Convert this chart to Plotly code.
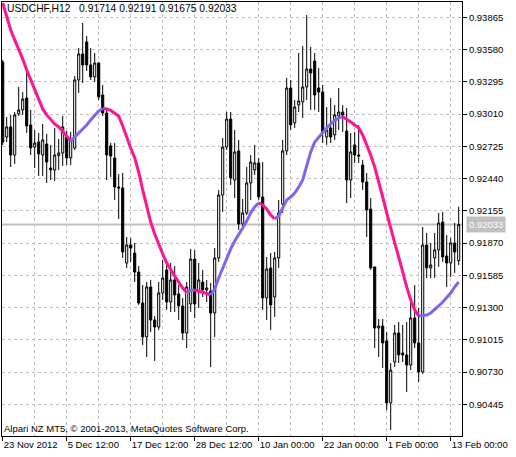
import plotly.graph_objects as go

# ---- data (USDCHF H12) ----
opens = [0.93470, 0.92807, 0.92896, 0.92648, 0.93011, 0.93046, 0.93152, 0.92913, 0.92719, 0.92763,
         0.92648, 0.92745, 0.92533, 0.92516, 0.92644, 0.92666, 0.92807, 0.92622, 0.92710, 0.93311,
         0.93541, 0.93647, 0.93444, 0.93338, 0.93461, 0.93178, 0.93019, 0.92728, 0.92622, 0.92365,
         0.92357, 0.91694, 0.91853, 0.91782, 0.91614, 0.91340, 0.91040, 0.91482, 0.91190, 0.91128,
         0.91429, 0.91632, 0.91349, 0.91544, 0.91420, 0.91314, 0.91075, 0.91332, 0.91729, 0.91438,
         0.91526, 0.91455, 0.91446, 0.91252, 0.91738, 0.92295, 0.92719, 0.92966, 0.92427, 0.92684,
         0.92039, 0.92136, 0.92401, 0.92516, 0.92578, 0.92277, 0.91385, 0.91650, 0.91393, 0.91738,
         0.92215, 0.92684, 0.93240, 0.92931, 0.93090, 0.93117, 0.93249, 0.93408, 0.93479, 0.93240,
         0.93205, 0.92807, 0.92887, 0.92825, 0.92993, 0.93028, 0.92860, 0.92427, 0.92737, 0.92648,
         0.92560, 0.92410, 0.92171, 0.91659, 0.91119, 0.91137, 0.91005, 0.90457, 0.90819, 0.91075,
         0.90899, 0.90881, 0.90792, 0.91208, 0.90987, 0.90731, 0.91853, 0.91650, 0.91738, 0.91809,
         0.92056, 0.91756, 0.91694, 0.91871, 0.91714]

highs = [0.93488, 0.92984, 0.93002, 0.93028, 0.93249, 0.93205, 0.93399, 0.93046, 0.92869, 0.92843,
         0.92922, 0.92834, 0.92737, 0.92887, 0.92790, 0.92993, 0.92860, 0.92852, 0.93346, 0.93594,
         0.93815, 0.93700, 0.93594, 0.93550, 0.93470, 0.93267, 0.93064, 0.92754, 0.92754, 0.92480,
         0.92489, 0.91924, 0.91915, 0.91871, 0.91667, 0.91499, 0.91526, 0.91544, 0.91226, 0.91526,
         0.91720, 0.91703, 0.91694, 0.91667, 0.91499, 0.91385, 0.91526, 0.91818, 0.91809, 0.91694,
         0.91632, 0.91544, 0.91517, 0.91826, 0.92339, 0.92798, 0.93028, 0.93028, 0.92869, 0.92781,
         0.92259, 0.92542, 0.92648, 0.92737, 0.92622, 0.92586, 0.91747, 0.91782, 0.91791, 0.92251,
         0.92781, 0.93329, 0.93311, 0.93134, 0.93550, 0.93611, 0.93885, 0.93603, 0.93550, 0.93417,
         0.93267, 0.93072, 0.93152, 0.93090, 0.93240, 0.93090, 0.93064, 0.92843, 0.92852, 0.92913,
         0.92604, 0.92489, 0.92268, 0.91659, 0.91199, 0.91199, 0.91084, 0.90810, 0.91146, 0.91172,
         0.91146, 0.91172, 0.91349, 0.91499, 0.91296, 0.92012, 0.91959, 0.91871, 0.91959, 0.92136,
         0.92145, 0.91941, 0.91915, 0.92047, 0.92191]

lows = [0.92737, 0.92763, 0.92542, 0.92569, 0.92993, 0.93002, 0.92843, 0.92648, 0.92533, 0.92463,
        0.92463, 0.92401, 0.92427, 0.92418, 0.92516, 0.92551, 0.92560, 0.92560, 0.92692, 0.93196,
        0.93285, 0.93391, 0.93311, 0.93293, 0.93134, 0.92993, 0.92427, 0.92454, 0.92251, 0.92083,
        0.91738, 0.91650, 0.91703, 0.91526, 0.91323, 0.90969, 0.90863, 0.91084, 0.90828, 0.91102,
        0.91367, 0.91279, 0.91261, 0.91261, 0.91190, 0.91013, 0.90943, 0.91261, 0.91208, 0.91296,
        0.91393, 0.91349, 0.90775, 0.91040, 0.91703, 0.92145, 0.92692, 0.92383, 0.92268, 0.91985,
        0.91985, 0.92118, 0.92251, 0.92472, 0.92251, 0.91279, 0.91190, 0.91102, 0.91217, 0.91650,
        0.92136, 0.92648, 0.92869, 0.92887, 0.93028, 0.92975, 0.93134, 0.93046, 0.93046, 0.93028,
        0.92754, 0.92737, 0.92754, 0.92781, 0.92869, 0.92852, 0.92224, 0.92268, 0.92578, 0.92578,
        0.92339, 0.91924, 0.91632, 0.90943, 0.90863, 0.90766, 0.90395, 0.90218, 0.90775, 0.90810,
        0.90819, 0.90554, 0.90748, 0.90943, 0.90642, 0.90713, 0.91561, 0.91561, 0.91561, 0.91659,
        0.91703, 0.91482, 0.91570, 0.91606, 0.91675]

closes = [0.92763, 0.92896, 0.92648, 0.93002, 0.93046, 0.93143, 0.92905, 0.92710, 0.92754, 0.92657,
          0.92781, 0.92586, 0.92516, 0.92648, 0.92666, 0.92896, 0.92622, 0.92781, 0.93311, 0.93541,
          0.93444, 0.93444, 0.93338, 0.93461, 0.93161, 0.93019, 0.92648, 0.92639, 0.92365, 0.92357,
          0.91791, 0.91853, 0.91826, 0.91614, 0.91340, 0.91040, 0.91482, 0.91190, 0.91128, 0.91429,
          0.91561, 0.91349, 0.91544, 0.91411, 0.91314, 0.91075, 0.91482, 0.91729, 0.91332, 0.91544,
          0.91455, 0.91473, 0.91252, 0.91738, 0.92295, 0.92719, 0.92966, 0.92445, 0.92675, 0.92039,
          0.92136, 0.92401, 0.92586, 0.92578, 0.92277, 0.91385, 0.91641, 0.91323, 0.91738, 0.92136,
          0.92684, 0.93240, 0.92913, 0.93072, 0.93125, 0.93249, 0.93408, 0.93373, 0.93178, 0.93205,
          0.92852, 0.92869, 0.92807, 0.93002, 0.93028, 0.93002, 0.92427, 0.92675, 0.92648, 0.92639,
          0.92410, 0.92162, 0.91650, 0.91119, 0.91137, 0.90987, 0.90457, 0.90748, 0.91075, 0.90881,
          0.90881, 0.90792, 0.91208, 0.90987, 0.90731, 0.91853, 0.91650, 0.91676, 0.91809, 0.92047,
          0.91747, 0.91694, 0.91871, 0.91791, 0.92033]

ma_values = [0.93991, 0.93868, 0.93753, 0.93665, 0.93585, 0.93497, 0.93399, 0.93311, 0.93223, 0.93134,
             0.93055, 0.93002, 0.92958, 0.92922, 0.92896, 0.92860, 0.92816, 0.92772, 0.92807, 0.92843,
             0.92878, 0.92913, 0.92958, 0.93002, 0.93037, 0.93059, 0.93055, 0.93042, 0.93019, 0.92993,
             0.92905, 0.92798, 0.92710, 0.92622, 0.92498, 0.92339, 0.92206, 0.92056, 0.91950, 0.91853,
             0.91773, 0.91694, 0.91632, 0.91579, 0.91526, 0.91473, 0.91433, 0.91451, 0.91455, 0.91446,
             0.91438, 0.91424, 0.91411, 0.91464, 0.91561, 0.91650, 0.91738, 0.91818, 0.91888, 0.91941,
             0.92003, 0.92065, 0.92136, 0.92189, 0.92224, 0.92206, 0.92171, 0.92118, 0.92083, 0.92109,
             0.92180, 0.92251, 0.92277, 0.92312, 0.92365, 0.92427, 0.92551, 0.92675, 0.92763, 0.92807,
             0.92843, 0.92887, 0.92922, 0.92953, 0.92975, 0.92987, 0.92966, 0.92940, 0.92913, 0.92887,
             0.92825, 0.92737, 0.92648, 0.92542, 0.92418, 0.92277, 0.92136, 0.91994, 0.91871, 0.91747,
             0.91606, 0.91482, 0.91367, 0.91279, 0.91226, 0.91230, 0.91234, 0.91252, 0.91279, 0.91314,
             0.91349, 0.91385, 0.91429, 0.91482, 0.91526]

date_tick_bars = [0, 16, 32, 48, 64, 80, 96, 112]
date_tick_labels = ["23 Nov 2012", "5 Dec 12:00", "17 Dec 12:00", "28 Dec 12:00",
                    "10 Jan 00:00", "22 Jan 00:00", "1 Feb 00:00", "13 Feb 00:00"]
price_ticks = [0.90445, 0.90730, 0.91015, 0.91300, 0.91585, 0.91870, 0.92155,
               0.92440, 0.92725, 0.93010, 0.93295, 0.93580, 0.93865]
last_bid = 0.92033
title_text = "USDCHF,H12\u00a0\u00a0\u00a00.91714\u00a00.92191\u00a00.91675\u00a00.92033"
footer_text = "Alpari NZ MT5, \u00a9 2001-2013, MetaQuotes Software Corp."

# ---- styles ----
UP_COLOR = "#7B68EE"
DOWN_COLOR = "#FF1493"
GRID = "#C0C0C0"
FONT = "Liberation Sans, Arial, sans-serif"
FS = 9.5

bars = list(range(len(opens)))

fig = go.Figure()

fig.add_trace(go.Candlestick(
    x=bars, open=opens, high=highs, low=lows, close=closes,
    increasing=dict(line=dict(color="black", width=1), fillcolor="white"),
    decreasing=dict(line=dict(color="black", width=1), fillcolor="black"),
    whiskerwidth=0, hoverinfo="skip", showlegend=False,
))

# colour-changing moving average (rising = blue, falling = pink)
runs = []
cur = None
for i in range(1, len(ma_values)):
    c = UP_COLOR if ma_values[i] > ma_values[i - 1] else DOWN_COLOR
    if c != cur:
        runs.append([c, [i - 1, i]])
        cur = c
    else:
        runs[-1][1].append(i)
for c, idx in runs:
    fig.add_trace(go.Scatter(
        x=idx, y=[ma_values[j] for j in idx], mode="lines",
        line=dict(color=c, width=3), hoverinfo="skip", showlegend=False,
    ))

fig.add_shape(type="line", xref="paper", x0=0, x1=1, yref="y", y0=last_bid, y1=last_bid,
              line=dict(color="#C0C0C0", width=2), layer="below")

fig.update_layout(
    width=516, height=457,
    margin=dict(l=2, r=54, t=2, b=21),
    paper_bgcolor="white", plot_bgcolor="white",
    showlegend=False, boxgap=0.25,
    font=dict(family=FONT, size=FS, color="black"),
    xaxis=dict(
        range=[-0.175, 114.825],
        tickmode="array", tickvals=date_tick_bars, ticktext=date_tick_labels,
        tickangle=0, automargin=False,
        ticks="outside", ticklen=4, tickcolor="black", tickwidth=1,
        ticklabelposition="outside right",
        showline=True, linecolor="black", linewidth=1, mirror=True,
        showgrid=True, gridcolor=GRID, griddash="3px,3px", gridwidth=1,
        minor=dict(tickmode="array", tickvals=list(range(0, 115, 8)), showgrid=True,
                   gridcolor=GRID, griddash="3px,3px", gridwidth=1, ticklen=0),
        zeroline=False, rangeslider=dict(visible=False),
        tickfont=dict(family=FONT, size=FS, color="black"),
    ),
    yaxis=dict(
        range=[0.90165, 0.94000], side="right", automargin=False,
        tickmode="array", tickvals=price_ticks, ticktext=["%.5f" % v for v in price_ticks],
        ticks="outside", ticklen=4, tickcolor="black", tickwidth=1,
        showline=True, linecolor="black", linewidth=1, mirror=True,
        showgrid=True, gridcolor=GRID, griddash="3px,3px", gridwidth=1,
        zeroline=False,
        tickfont=dict(family=FONT, size=FS, color="black"),
    ),
    annotations=[
        dict(text=title_text, xref="paper", yref="paper", x=0.006, y=0.985,
             xanchor="left", yanchor="middle", showarrow=False,
             font=dict(family=FONT, size=10.3, color="black")),
        dict(text=footer_text, xref="paper", yref="paper", x=0.0, y=0.018,
             xanchor="left", yanchor="middle", showarrow=False,
             font=dict(family=FONT, size=FS, color="black")),
        dict(text="%.5f" % last_bid, xref="paper", yref="y", x=1.008, y=last_bid,
             xanchor="left", yanchor="middle", showarrow=False,
             bgcolor="#C0C0C0", borderpad=2,
             font=dict(family=FONT, size=FS, color="white")),
    ],
)

fig.write_html("out.html", config={"displayModeBar": False},
               post_script="document.body.style.margin='0px';")
